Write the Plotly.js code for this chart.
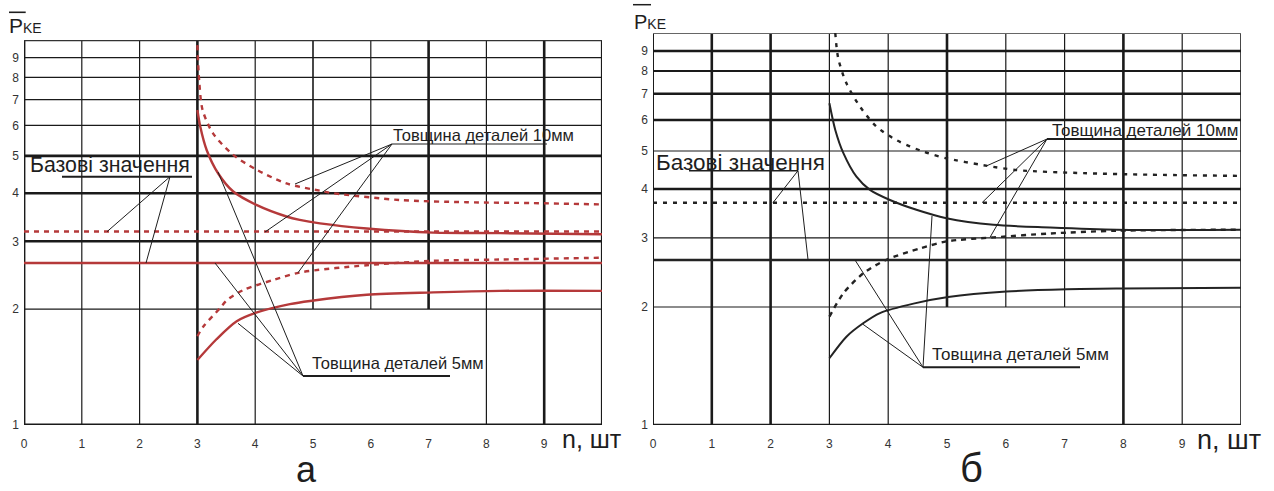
<!DOCTYPE html>
<html><head><meta charset="utf-8">
<script src="https://cdn.plot.ly/plotly-3.0.1.min.js"></script>
<style>html,body{margin:0;padding:0;background:#fff}#chart{width:1274px;height:491px}</style>
</head><body><div id="chart"></div>
<script>
// ---- tick labels ----
const xTicks = [0,1,2,3,4,5,6,7,8,9];
const yTicks = [1,2,3,4,5,6,7,8,9];

// ---- panel а (red) ----
const a_baseX = [0, 10];
const a_base10 = [3.18, 3.18];
const a_base5 = [2.635, 2.635];
const a_up10_x = [3.0, 3.03, 3.09, 3.27, 3.62, 4.03, 4.54, 5.12, 5.35, 6.5, 7.66, 8.81, 10];
const a_up10_y = [9.7, 7.87, 6.58, 5.72, 5.03, 4.6, 4.24, 4.06, 4.0, 3.84, 3.79, 3.77, 3.74];
const a_up5_x = [3.0, 3.05, 3.16, 3.36, 3.62, 4.02, 4.54, 4.77, 5.12, 5.93, 7.08, 8.24, 10];
const a_up5_y = [6.58, 5.95, 5.18, 4.5, 4.04, 3.73, 3.48, 3.41, 3.34, 3.24, 3.16, 3.15, 3.13];
const a_lo10_x = [3.0, 3.1, 3.39, 3.51, 3.79, 4.31, 4.78, 5.93, 7.08, 8.24, 10];
const a_lo10_y = [1.70, 1.80, 2.01, 2.11, 2.24, 2.38, 2.49, 2.60, 2.67, 2.69, 2.72];
const a_lo5_x = [3.0, 3.33, 3.68, 4.03, 4.6, 4.95, 5.93, 7.08, 8.24, 10];
const a_lo5_y = [1.475, 1.67, 1.86, 1.96, 2.06, 2.10, 2.18, 2.21, 2.23, 2.23];

// ---- panel б (black) ----
const b_baseX = [0, 10];
const b_base10 = [3.69, 3.69];
const b_base5 = [2.636, 2.636];
const b_up10_x = [3.1, 3.15, 3.29, 3.52, 3.80, 4.14, 4.60, 4.99, 5.62, 6.19, 7.32, 8.45, 10];
const b_up10_y = [10, 8.62, 7.44, 6.49, 5.77, 5.33, 4.98, 4.79, 4.6, 4.47, 4.39, 4.35, 4.32];
const b_up5_x = [3.0, 3.1, 3.24, 3.46, 3.69, 4.03, 4.48, 4.99, 5.79, 6.75, 7.89, 10];
const b_up5_y = [6.62, 5.66, 4.93, 4.3, 3.98, 3.75, 3.54, 3.37, 3.24, 3.19, 3.15, 3.15];
const b_lo10_x = [3.0, 3.24, 3.58, 3.97, 4.54, 4.99, 5.79, 6.75, 7.89, 10];
const b_lo10_y = [1.89, 2.17, 2.44, 2.64, 2.82, 2.94, 3.01, 3.08, 3.13, 3.15];
const b_lo5_x = [3.0, 3.29, 3.58, 3.86, 4.43, 5.02, 6.01, 7.04, 8.0, 10];
const b_lo5_y = [1.48, 1.68, 1.82, 1.93, 2.04, 2.12, 2.19, 2.22, 2.23, 2.24];

// ---- texts ----
const txtBase = 'Базові значення';
const txt10 = 'Товщина деталей 10мм';
const txt5 = 'Товщина деталей 5мм';
const txtAxisX = 'n, шт';
const txtPanelA = 'а';
const txtPanelB = 'б';

const RED = '#b5393a', BLK = '#232323';
const W = 1274, H = 491;
const px = v => v / W, py = v => 1 - v / H;
const FONT = 'Liberation Sans, Arial, sans-serif';

function tr(x, y, ax, color, width, dash) {
  return {x: x, y: y, xaxis: ax[0], yaxis: ax[1], type: 'scatter', mode: 'lines',
    line: {color: color, width: width, dash: dash || 'solid', shape: 'spline', smoothing: 0.8},
    hoverinfo: 'skip'};
}
const A = ['x', 'y'], B = ['x2', 'y2'];
const data = [
  tr(a_baseX, a_base10, A, RED, 2.4, '5px,5px'),
  tr(a_baseX, a_base5, A, RED, 2.6),
  tr(a_up10_x, a_up10_y, A, RED, 2.4, '5px,5px'),
  tr(a_up5_x, a_up5_y, A, RED, 2.4),
  tr(a_lo10_x, a_lo10_y, A, RED, 2.4, '5px,5px'),
  tr(a_lo5_x, a_lo5_y, A, RED, 2.4),
  tr(b_baseX, b_base10, B, BLK, 2.4, '4px,6px'),
  tr(b_baseX, b_base5, B, BLK, 2.6),
  tr(b_up10_x, b_up10_y, B, BLK, 2.4, '4px,6px'),
  tr(b_up5_x, b_up5_y, B, BLK, 2.0),
  tr(b_lo10_x, b_lo10_y, B, BLK, 2.4, '5px,5px'),
  tr(b_lo5_x, b_lo5_y, B, BLK, 2.0)
];

const shapes = [];
const T = 1.2, K = 2.6;
function grid(xr, yr, vs, hs) {
  vs.forEach(v => shapes.push({type: 'line', xref: xr, yref: yr, x0: v[0], x1: v[0], y0: v[1], y1: v[2],
    line: {color: v[4] || '#1a1a1a', width: v[3]}, layer: 'below'}));
  hs.forEach(h => shapes.push({type: 'line', xref: xr, yref: yr, y0: h[0], y1: h[0], x0: h[1], x1: h[2],
    line: {color: h[4] || '#1a1a1a', width: h[3]}, layer: 'below'}));
}
grid('x', 'y',
  [[0,1,10,2.8],[1,1,10,T],[2,1,10,T],[3,1,10,K],[4,1,10,T],[5,2,10,1.6],[6,2,10,T],[7,2,10,K],[8,1,10,T],[9,1,10,K],[10,1,10,2.2]],
  [[1,0,10,2.8],[2,0,10,T],[3,0,10,K],[4,0,10,K],[5,0,10,K],[6,0,10,T],[7,0,10,T],[8,0,10,T],[9,0,10,T],[10,0,10,K,'#333']]);
grid('x2', 'y2',
  [[0,1,10,2.0],[1,1,10,K],[2,1,10,K],[3,1,10,T],[4,1,10,T],[5,2,10,K],[6,2,10,T],[7,2,10,T],[8,1,10,K],[9,1,10,T],[10,1,10,1.6]],
  [[1,0,10,K],[2,0,10,T],[3,0,10,T],[4,0,10,K],[5,0,10,T],[6,0,10,K],[7,0,10,K],[8,0,10,1.8],[9,0,10,K],[10,0,10,1.8,'#666']]);

function seg(x0, y0, x1, y1, w) {
  shapes.push({type: 'line', xref: 'paper', yref: 'paper', x0: px(x0), y0: py(y0), x1: px(x1), y1: py(y1),
    line: {color: '#1e1e1e', width: w || 1}});
}
// panel а leaders
seg(62, 176.7, 192, 176.7, 2);
seg(170, 176.7, 107, 231.7); seg(170, 176.7, 146, 263);
seg(392, 144, 547, 144, 1);
seg(392, 144, 295, 184); seg(392, 144, 265, 232); seg(392, 144, 298, 272.7);
seg(303, 376, 450, 376, 2);
seg(303, 376, 238, 323.3); seg(303, 376, 215, 263); seg(303, 376, 218, 172);
// panel б leaders
seg(689, 170.7, 798, 170.7, 1.5);
seg(798, 170.7, 773, 202.7); seg(798, 170.7, 808, 259.5);
seg(1047, 139, 1237, 139, 2);
seg(1047, 139, 987, 165.7); seg(1047, 139, 982, 202.7); seg(1047, 139, 990, 237.3);
seg(923, 367.3, 1080, 367.3, 2);
seg(923, 367.3, 863, 324.3); seg(923, 367.3, 855, 260); seg(923, 367.3, 932, 216);
// overlines on P
seg(9, 12.3, 25.7, 12.3, 1.6);
seg(633, 4.7, 651, 4.7, 1.5);

function ann(text, x, y, size, xanchor, yanchor) {
  return {text: text, xref: 'paper', yref: 'paper', x: px(x), y: py(y), xanchor: xanchor || 'left', yanchor: yanchor || 'middle',
    showarrow: false, font: {family: FONT, size: size, color: '#1e1e1e'}, borderpad: 0};
}
const annotations = [
  ann(txtBase, 29, 165, 21.3),
  ann(txtBase, 655, 162, 22.5),
  ann(txt10, 392, 135, 16.5),
  ann(txt10, 1051, 130, 17),
  ann(txt5, 311, 363, 16.5),
  ann(txt5, 931, 354, 17),
  ann(txtAxisX, 561, 439, 25),
  ann(txtAxisX, 1196, 440, 27),
  ann(txtPanelA, 306, 491, 36, 'center', 'bottom'),
  ann(txtPanelB, 971, 491, 40, 'center', 'bottom'),
  ann('P<span style="font-size:14px">KE</span>', 8, 26, 21),
  ann('P<span style="font-size:14px">KE</span>', 633, 22, 20)
];

function xa(dom, anchor) {
  return {domain: dom, range: [0, 10], tickvals: xTicks, showgrid: false, zeroline: false, showline: false,
    ticks: '', ticklabelstandoff: 10, tickfont: {family: FONT, size: 12, color: '#333'}, anchor: anchor, fixedrange: true};
}
function ya(dom, anchor) {
  return {domain: dom, type: 'log', range: [0, 1], tickvals: yTicks, ticktext: yTicks.map(String), showgrid: false,
    zeroline: false, showline: false, ticks: '', ticklabelstandoff: 4,
    tickfont: {family: FONT, size: 12, color: '#333'}, anchor: anchor, fixedrange: true};
}
const layout = {
  width: W, height: H, margin: {l: 0, r: 0, t: 0, b: 0}, showlegend: false,
  paper_bgcolor: '#fff', plot_bgcolor: '#fff',
  xaxis: xa([24 / W, 602 / W], 'y'),
  yaxis: ya([66 / H, 451 / H], 'x'),
  xaxis2: xa([653 / W, 1241 / W], 'y2'),
  yaxis2: ya([66 / H, 458 / H], 'x2'),
  shapes: shapes, annotations: annotations
};
Plotly.newPlot('chart', data, layout, {staticPlot: true, displayModeBar: false});
</script></body></html>
